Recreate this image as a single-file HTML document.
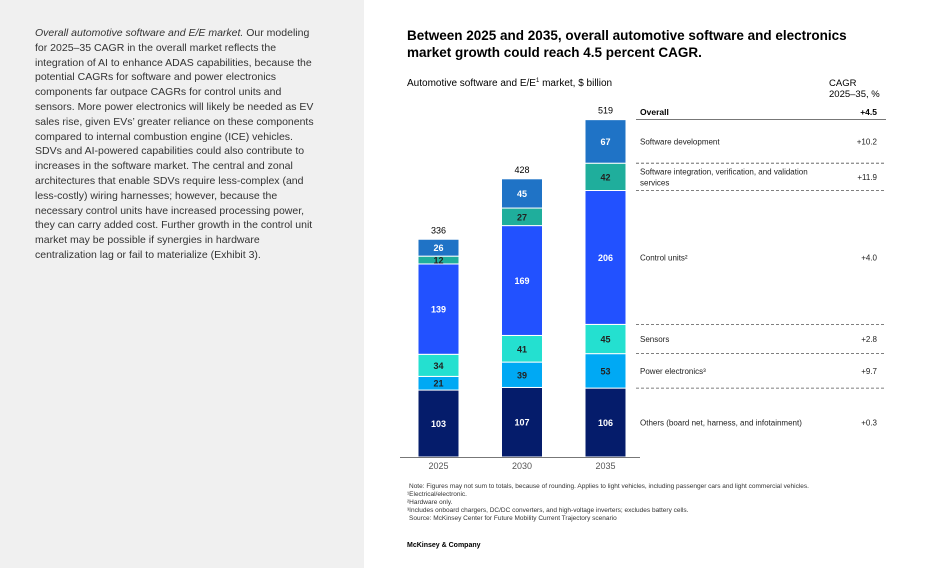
<!DOCTYPE html>
<html><head><meta charset="utf-8"><style>
body{margin:0;width:949px;height:568px;overflow:hidden;background:#fff;font-family:"Liberation Sans",sans-serif;}
#left{position:absolute;left:0;top:0;width:364px;height:568px;background:#f0f0f0;}
#left p{position:absolute;left:35px;top:26px;width:284px;margin:0;font-size:10.5px;line-height:14.8px;color:#333;}
svg{position:absolute;left:0;top:0;}
</style></head><body>
<div id="left"><p><i>Overall automotive software and E/E market.</i> Our modeling for 2025–35 CAGR in the overall market reflects the integration of AI to enhance ADAS capabilities, because the potential CAGRs for software and power electronics components far outpace CAGRs for control units and sensors. More power electronics will likely be needed as EV sales rise, given EVs’ greater reliance on these components compared to internal combustion engine (ICE) vehicles. SDVs and AI-powered capabilities could also contribute to increases in the software market. The central and zonal architectures that enable SDVs require less-complex (and less-costly) wiring harnesses; however, because the necessary control units have increased processing power, they can carry added cost. Further growth in the control unit market may be possible if synergies in hardware centralization lag or fail to materialize (Exhibit 3).</p></div>
<svg id="chart" width="949" height="568" font-family="Liberation Sans, sans-serif">
<text x="407" y="40" font-size="13.5" font-weight="bold" fill="#000">Between 2025 and 2035, overall automotive software and electronics</text>
<text x="407" y="57" font-size="13.5" font-weight="bold" fill="#000">market growth could reach 4.5 percent CAGR.</text>
<text x="407" y="86" font-size="10" fill="#000">Automotive software and E/E<tspan font-size="6" dy="-4">1</tspan><tspan dy="4"> market, $ billion</tspan></text>
<text x="829" y="86" font-size="9.5" fill="#000">CAGR</text>
<text x="829" y="97" font-size="9.5" fill="#000">2025–35, %</text>
<g id="bars"></g><g id="legend"></g>
<line x1="400" y1="457.5" x2="640" y2="457.5" stroke="#777" stroke-width="1"/>
<g font-size="6.5" fill="#333">
<text x="409" y="488">Note: Figures may not sum to totals, because of rounding. Applies to light vehicles, including passenger cars and light commercial vehicles.</text>
<text x="407" y="496">¹Electrical/electronic.</text>
<text x="407" y="504">²Hardware only.</text>
<text x="407" y="512">³Includes onboard chargers, DC/DC converters, and high-voltage inverters; excludes battery cells.</text>
<text x="409" y="520">Source: McKinsey Center for Future Mobility Current Trajectory scenario</text>
</g>
<text x="407" y="547" font-size="7" font-weight="bold" fill="#000">McKinsey &amp; Company</text>
</svg>
<script>
const years=["2025","2030","2035"];
const totals=[336,428,519];
const others=[103,107,106];
const powerElec=[21,39,53];
const sensors=[34,41,45];
const controlUnits=[139,169,206];
const swIntegration=[12,27,42];
const swDev=[26,45,67];
const segNames=["Others (board net, harness, and infotainment)","Power electronics³","Sensors","Control units²","Software integration, verification, and validation|services","Software development"];
const cagr=["+0.3","+9.7","+2.8","+4.0","+11.9","+10.2"];
const overallCagr="+4.5";
const NS="http://www.w3.org/2000/svg";
const series=[others,powerElec,sensors,controlUnits,swIntegration,swDev];
const colors=["#051c6b","#00a9f4","#24e0d0","#2251ff","#1fae9c","#1f73c6"];
const txtCol=["#fff","#222","#222","#fff","#222","#fff"];
const base=457,k=0.65,barW=41;
const xOf=i=>418+i*83.5;
const yOf=v=>base-v*k;
function mk(tag,attrs,parent){const e=document.createElementNS(NS,tag);for(const a in attrs)e.setAttribute(a,attrs[a]);parent.appendChild(e);return e;}
const gb=document.getElementById('bars'),gl=document.getElementById('legend');
let lastBounds=[];
years.forEach((yr,i)=>{
  let cum=0;const x=xOf(i);lastBounds=[];
  series.forEach((s,j)=>{
    const y0=yOf(cum),y1=yOf(cum+s[i]);cum+=s[i];
    const r=mk('rect',{x:x,y:y1,width:barW,height:y0-y1,fill:colors[j],stroke:'#fff','stroke-width':1},gb);
    
    
    const t=mk('text',{x:x+barW/2,y:(y0+y1)/2+3.5,'text-anchor':'middle','font-size':9,'font-weight':'bold',fill:txtCol[j]},gb);
    t.textContent=s[i];
    
    
    lastBounds.push([y0,y1]);
  });
  const tt=mk('text',{x:x+barW/2,y:yOf(cum)-6,'text-anchor':'middle','font-size':9,fill:'#000'},gb);
  tt.textContent=totals[i];
  
  
  const xl=mk('text',{x:x+barW/2,y:469,'text-anchor':'middle','font-size':9,fill:'#555'},gb);
  xl.textContent=yr;
  
  
});
const ov=mk('text',{x:640,y:115,'font-size':8.5,'font-weight':'bold',fill:'#000'},gl);ov.textContent="Overall";


const ovv=mk('text',{x:877,y:115,'font-size':8.5,'font-weight':'bold','text-anchor':'end',fill:'#000'},gl);ovv.textContent=overallCagr;


const ol=mk('line',{x1:636,x2:886,y1:119.5,y2:119.5,stroke:'#777','stroke-width':1},gl);


lastBounds.forEach((b,j)=>{
  const cy=(b[0]+b[1])/2;
  const parts=segNames[j].split('|');
  const t=mk('text',{x:640,y:cy+3-(parts.length-1)*5.5,'font-size':8,fill:'#222'},gl);
  parts.forEach((p,pi)=>{const ts=mk('tspan',{x:640,dy:pi?11:0},t);ts.textContent=p;});
  
  
  const v=mk('text',{x:877,y:cy+3,'font-size':8,'text-anchor':'end',fill:'#222'},gl);v.textContent=cagr[j];
  
  
  if(j>0){const l=mk('line',{x1:636,x2:886,y1:b[0],y2:b[0],stroke:'#555','stroke-width':0.8,'stroke-dasharray':'3,2'},gl);
  
  }
});
</script>
</body></html>
